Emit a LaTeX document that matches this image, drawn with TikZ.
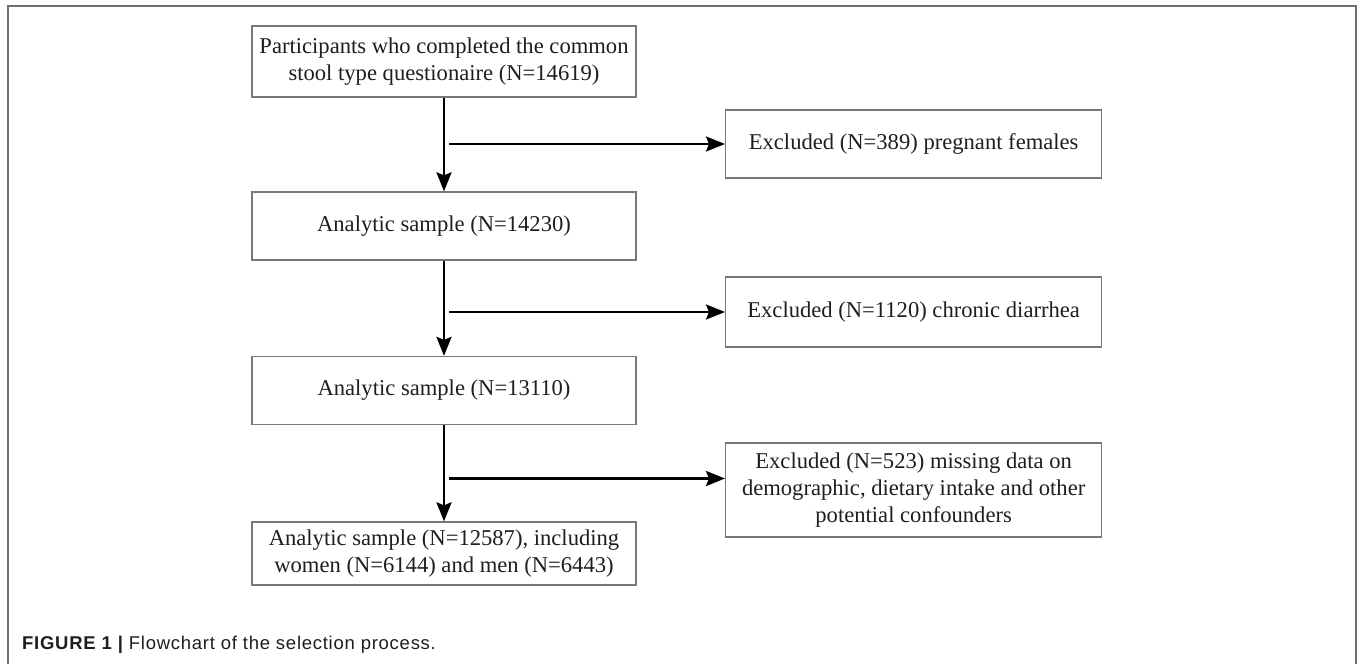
\documentclass[tikz,border=0pt]{standalone}
\usepackage{fontspec}
\setmainfont{Liberation Serif}
\newfontfamily\capfont[LetterSpace=4]{Liberation Sans}
\usetikzlibrary{positioning,arrows.meta}
\definecolor{boxgray}{RGB}{120,120,120}
\definecolor{framegray}{RGB}{112,112,112}
\definecolor{textdark}{RGB}{30,30,30}
\begin{document}
\begin{tikzpicture}[x=1pt, y=-1pt, node distance={164.5pt},
		box/.style = {draw=boxgray, line width=1.3pt, align=center, text=textdark, inner sep=4pt,
			minimum width=384pt, minimum height=68pt, font=\fontsize{22.6}{27}\selectfont},
		exbox/.style = {box, minimum width=376pt},
		arr/.style = {-{Stealth[length=19pt,width=15pt,inset=3pt]}, line width=2.6pt}]
		\useasboundingbox (0,0) rectangle (1358,664);
		\draw[framegray, line width=2pt] (7.5,664) -- (7.5,6) -- (1356,6) -- (1356,664);
		\node[box, minimum height=71pt] (part) at (444,61.5) {Participants who completed the common\\stool type questionaire (N=14619)};
		\node[box] (ana1) [below of=part] {Analytic sample (N=14230)};
		\node[box] (ana2) [below of=ana1] {Analytic sample (N=13110)};
		\node[box, minimum height=63pt] (final) [below of=ana2, yshift=1.5pt] {Analytic sample (N=12587), including\\women (N=6144) and men (N=6443)};
		\coordinate (s1) at (449,144);
		\coordinate (s2) at (449,312);
		\coordinate (s3) at (449,478.5);
		\node[exbox] (ex1) [right=276pt of s1] {Excluded (N=389) pregnant females};
		\node[exbox, minimum height=70pt] (ex2) [right=276pt of s2] {Excluded (N=1120) chronic diarrhea};
		\node[exbox, minimum height=94pt] (ex3) [right=276pt of s3, yshift=-11.5pt] {Excluded (N=523) missing data on\\demographic, dietary intake and other\\potential confounders};
		\draw[arr] (part) to (ana1);
		\draw[arr] (ana1) to (ana2);
		\draw[arr] (ana2) to (final);
		\draw[arr] (s1) to (ex1);
		\draw[arr] (s2) to (ex2);
		\draw[arr] (s3) to (s3 -| ex3.west);
		% caption
		\node[anchor=base west, inner sep=0pt, font=\capfont\fontsize{18.5}{20}\selectfont, text=textdark] (cap) at (22,649)
			{{\bfseries FIGURE 1 |} Flowchart of the selection process.};
	\end{tikzpicture}
\end{document}
